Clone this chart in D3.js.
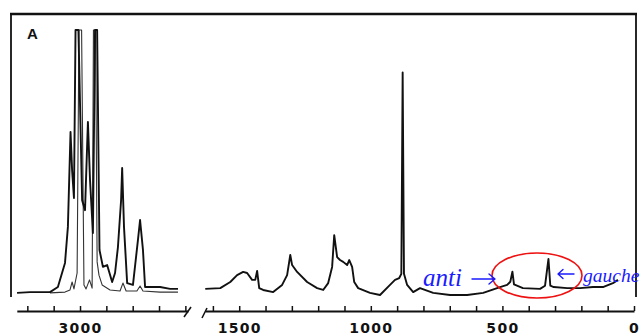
<!DOCTYPE html>
<html>
<head>
<meta charset="utf-8">
<script src="https://cdn.jsdelivr.net/npm/d3@7/dist/d3.min.js"></script>
<style>
  html, body { margin: 0; padding: 0; background: #fff; }
  svg { display: block; }
</style>
</head>
<body>
<svg id="chart" width="643" height="335"></svg>
<script>
// ---- Data (wavenumber cm^-1, relative intensity 0-100) ----
const leftThick = [
  [3239,0.8],[3190,1.1],[3133,1.1],[3114,1.1],[3084,3.0],[3057,12.1],[3046,25.7],[3036,61.5],
  [3030,47],[3023,36.6],[3017,100],[3006,100],[2992,35.8],[2981,32],[2970,65.3],[2962,43.4],
  [2951,23.4],[2943,100],[2935,100],[2926,17],[2913,10.6],[2897,11.3],[2878,4.9],[2867,8.3],
  [2856,18.1],[2844,35.8],[2840,47.9],[2833,25.7],[2821,4.5],[2799,3.8],[2780,20.8],[2772,28.3],
  [2761,17],[2753,3.0],[2696,3.0],[2658,2.3],[2628,2.3]
];
const leftThin = [
  [3114,0.8],[3057,1.1],[3038,1.9],[3030,4.9],[3023,2.3],[3011,8.3],[3004,100],[2994,100],
  [2985,3.8],[2977,2.3],[2964,5.7],[2954,2.6],[2949,100],[2941,100],[2935,12.5],[2928,7.5],
  [2916,3.8],[2886,1.9],[2848,1.5],[2837,4.5],[2825,1.5],[2784,1.5],[2772,3.4],[2761,1.5],
  [2696,1.1],[2628,1.1]
];
const rightThick = [
  [1629,2.3],[1572,2.6],[1534,4.9],[1508,7.5],[1485,8.7],[1470,8.3],[1451,5.7],[1439,5.7],
  [1432,9.1],[1424,2.6],[1409,1.9],[1371,1.1],[1337,3.8],[1318,7.5],[1306,15.1],[1299,11.3],
  [1280,8.7],[1242,4.9],[1204,2.6],[1181,1.9],[1162,4.5],[1147,10.6],[1139,22.6],[1128,14.3],
  [1117,13.2],[1105,12.5],[1090,11.3],[1082,13.2],[1071,10.6],[1063,4.9],[1048,2.6],[1003,0.8],
  [965,0],[927,3.8],[908,5.7],[892,6.4],[884,8],[879,84],[874,8],[862,3.8],[839,1.1],[813,2.6],
  [763,0.8],[699,0],[634,0],[573,0.8],[509,3.0],[482,3.8],[470,5],[462,8.8],[456,4],[422,2.6],
  [357,2.3],[338,3.5],[325,13.6],[318,3.5],[305,3.0],[254,2.6],[205,2.6],[156,3.0],[118,3.0],
  [80,4.5],[61,5.7]
];
const leftTicks = [3200,3100,3000,2900,2800,2700,2600];
const rightTicks = [1600,1500,1400,1300,1200,1100,1000,900,800,700,600,500,400,300,200,100,0];
const tickLabels = [3000,1500,1000,500,0];
const panelLabel = "A";
const annoAnti = "anti";
const annoGauche = "gauche";

// ---- Scales ----
const svg = d3.select("#chart");
const xLeft = d3.scaleLinear().domain([3240, 2590]).range([16.8, 188]);
const xRight = d3.scaleLinear().domain([1630, 0]).range([205, 634]);
const y = d3.scaleLinear().domain([0, 100]).range([295, 30]);
const axisY = 311;

svg.append("rect").attr("width", 643).attr("height", 335).attr("fill", "#fff");

// ---- Frame ----
const frame = svg.append("g").attr("fill", "none").attr("stroke", "#111");
frame.append("line").attr("x1", 10).attr("x2", 637).attr("y1", 14).attr("y2", 14).attr("stroke-width", 2.6);
frame.append("line").attr("x1", 11).attr("x2", 11).attr("y1", 13).attr("y2", 297).attr("stroke-width", 1.8);
frame.append("line").attr("x1", 636).attr("x2", 636).attr("y1", 13).attr("y2", 297).attr("stroke-width", 1.8);

// ---- Traces ----
const lineL = d3.line().x(d => xLeft(d[0])).y(d => y(d[1]));
const lineR = d3.line().x(d => xRight(d[0])).y(d => y(d[1]));

svg.append("path").datum(leftThin).attr("d", lineL)
  .attr("fill", "none").attr("stroke", "#333").attr("stroke-width", 1.1).attr("stroke-linejoin", "round");
svg.append("path").datum(leftThick).attr("d", lineL)
  .attr("fill", "none").attr("stroke", "#111").attr("stroke-width", 1.9).attr("stroke-linejoin", "round");
svg.append("path").datum(rightThick).attr("d", lineR)
  .attr("fill", "none").attr("stroke", "#111").attr("stroke-width", 1.9).attr("stroke-linejoin", "round");

// ---- Axes ----
const fmt = d => tickLabels.includes(d) ? String(d) : "";
function styleAxis(g) {
  g.select(".domain").attr("stroke", "#111").attr("stroke-width", 1.8);
  g.selectAll(".tick line").attr("stroke", "#111").attr("stroke-width", 1.5);
  g.selectAll(".tick text")
    .attr("fill", "#111")
    .style("font-family", "'DejaVu Sans', sans-serif")
    .style("font-weight", "bold")
    .style("font-size", "14px")
    .style("letter-spacing", "1.3px");
}
svg.append("g").attr("transform", `translate(0,${axisY})`)
  .call(d3.axisBottom(xLeft).tickValues(leftTicks).tickSizeInner(-5).tickSizeOuter(0).tickPadding(12).tickFormat(fmt))
  .call(styleAxis);
svg.append("g").attr("transform", `translate(0,${axisY})`)
  .call(d3.axisBottom(xRight).tickValues(rightTicks).tickSizeInner(-5).tickSizeOuter(0).tickPadding(12).tickFormat(fmt))
  .call(styleAxis);

// axis break marks
const xl = xLeft.range()[1], xr = xRight.range()[0];
svg.append("path").attr("d", `M${xl - 4},${axisY + 6} L${xl + 3},${axisY - 4}`)
  .attr("stroke", "#111").attr("stroke-width", 1.6).attr("fill", "none");
svg.append("path").attr("d", `M${xr - 3},${axisY + 7} L${xr + 2},${axisY - 3}`)
  .attr("stroke", "#111").attr("stroke-width", 1.6).attr("fill", "none");

// ---- Panel label ----
svg.append("text").attr("x", 27).attr("y", 39).text(panelLabel)
  .style("font-family", "'Liberation Sans', Arial, sans-serif").style("font-weight", "bold")
  .style("font-size", "15px").attr("fill", "#111");

// ---- Annotations ----
const blue = "#1a1aff";
svg.append("ellipse").attr("cx", 537).attr("cy", 275.5).attr("rx", 45).attr("ry", 22.5)
  .attr("fill", "none").attr("stroke", "#ee1111").attr("stroke-width", 1.6);
svg.append("text").attr("x", 423).attr("y", 286).text(annoAnti)
  .style("font-family", "'Liberation Serif', 'Times New Roman', serif").style("font-style", "italic")
  .style("font-size", "25px").attr("fill", blue);
// arrows
const arrows = svg.append("g").attr("fill", "none").attr("stroke", blue)
  .attr("stroke-width", 1.4).attr("stroke-linecap", "round").attr("stroke-linejoin", "round");
arrows.append("path").attr("d", "M472,279 L495,279 M489,274 L495,279 L489,284");
arrows.append("path").attr("d", "M558,274 L574,274 M563,269.5 L558,274 L563,278.5");
svg.append("text").attr("x", 583).attr("y", 282).text(annoGauche)
  .style("font-family", "'Liberation Serif', 'Times New Roman', serif").style("font-style", "italic")
  .style("font-size", "19.5px").attr("fill", blue);
</script>
</body>
</html>
